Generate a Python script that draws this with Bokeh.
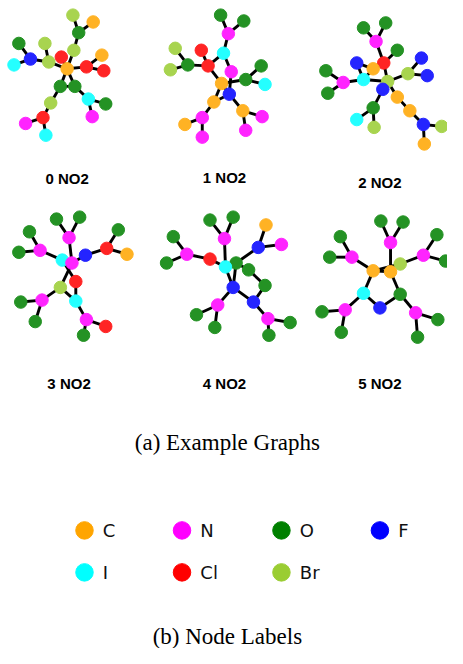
from bokeh.plotting import figure
from bokeh.models import ColumnDataSource, Range1d
from bokeh.embed import file_html
from bokeh.resources import INLINE
from bokeh.core.properties import value

# ---- label palette ----
atom_types = ["C", "N", "O", "F", "I", "Cl", "Br"]
atom_colors = ["#FFA500", "#FF00FF", "#008000", "#0000FF", "#00FFFF", "#FF0000", "#9ACD32"]

# ---- graph data (layout positions, labels, edges) ----
g0_x = [75, 96, 81, 76, 19, 46, 63, 31, 14, 50, 69, 89, 105, 107, 62, 77, 91, 109, 95, 52, 44, 26, 47]
g0_y = [15, 22, 33, 51, 44, 44, 58, 60, 66, 63, 70, 68, 56, 72, 88, 88, 101, 106, 119, 105, 120, 126, 138]
g0_lab = ["Br", "C", "O", "Br", "O", "Br", "Cl", "F", "I", "Br", "C", "Cl", "C", "Cl", "O", "O", "I", "O", "N", "Br", "Cl", "N", "I"]
g0_edges = [(0, 2), (1, 2), (2, 3), (3, 10), (6, 10), (5, 9), (4, 7), (8, 7), (7, 9), (9, 10), (10, 11), (11, 12),
            (11, 13), (10, 14), (10, 15), (14, 15), (14, 19), (15, 16), (16, 17), (16, 18), (19, 20), (20, 21), (20, 22)]

g1_x = [228, 252, 236, 181, 208, 231, 194, 176, 215, 239, 270, 254, 274, 229, 237, 221, 251, 271, 209, 191, 254, 209]
g1_y = [15, 21, 34, 49, 51, 54, 66, 71, 67, 73, 67, 81, 86, 85, 96, 104, 113, 119, 120, 127, 133, 140]
g1_lab = ["O", "O", "N", "Br", "Cl", "I", "O", "Br", "Cl", "N", "O", "O", "I", "C", "F", "C", "C", "N", "N", "C", "N", "N"]
g1_edges = [(0, 2), (1, 2), (2, 5), (3, 6), (7, 6), (6, 8), (4, 8), (8, 5), (5, 9), (8, 13), (9, 14), (13, 11),
            (11, 10), (11, 12), (13, 14), (13, 15), (15, 14), (14, 16), (16, 17), (16, 20), (15, 18), (18, 19), (18, 21)]

g2_x = [376, 399, 389, 411, 369, 397, 386, 436, 422, 442, 337, 355, 376, 401, 339, 396, 411, 386, 424, 369, 387, 438, 457, 439]
g2_y = [28, 23, 42, 51, 64, 64, 70, 59, 75, 77, 72, 84, 81, 83, 95, 91, 99, 110, 113, 122, 130, 127, 129, 147]
g2_lab = ["O", "O", "N", "O", "F", "Cl", "C", "F", "Br", "F", "O", "N", "I", "Br", "O", "F", "C", "O", "C", "I", "Br", "F", "Br", "C"]
g2_edges = [(0, 2), (1, 2), (2, 5), (5, 3), (5, 6), (5, 13), (4, 6), (4, 12), (6, 12), (7, 8), (9, 8), (8, 13),
            (10, 11), (14, 11), (11, 12), (12, 13), (13, 15), (13, 16), (16, 18), (18, 21), (21, 22), (21, 23),
            (15, 17), (17, 19), (17, 20)]

g3_x = [58, 82, 30, 71, 122, 41, 110, 131, 19, 88, 64, 74, 78, 62, 43, 78, 21, 36, 89, 109, 86]
g3_y = [224, 222, 237, 243, 235, 256, 254, 260, 258, 261, 266, 269, 288, 294, 307, 308, 309, 329, 327, 334, 343]
g3_lab = ["O", "O", "O", "N", "O", "N", "Cl", "C", "O", "F", "I", "N", "Cl", "Br", "N", "I", "O", "O", "N", "Cl", "O"]
g3_edges = [(0, 3), (1, 3), (2, 5), (8, 5), (5, 10), (3, 11), (10, 11), (11, 9), (9, 6), (6, 4), (6, 7),
            (10, 12), (12, 15), (11, 13), (13, 14), (13, 15), (14, 16), (14, 17), (15, 18), (18, 19), (18, 20)]

g4_x = [217, 241, 275, 179, 232, 291, 267, 193, 217, 172, 244, 233, 257, 274, 241, 262, 225, 203, 277, 300, 222, 278]
g4_y = [225, 222, 230, 242, 244, 250, 253, 260, 265, 269, 269, 273, 276, 292, 294, 309, 312, 322, 326, 330, 335, 343]
g4_lab = ["O", "O", "C", "O", "N", "N", "F", "N", "Cl", "O", "O", "I", "O", "O", "F", "F", "N", "O", "N", "O", "O", "O"]
g4_edges = [(0, 4), (1, 4), (4, 11), (3, 7), (9, 7), (7, 8), (8, 11), (11, 10), (10, 6), (6, 2), (6, 5),
            (10, 12), (12, 13), (13, 15), (15, 14), (14, 11), (14, 10), (14, 16), (16, 17), (16, 20),
            (15, 18), (18, 19), (18, 21)]

g5_x = [394, 417, 352, 404, 452, 364, 438, 341, 461, 414, 386, 404, 376, 414, 393, 357, 333, 430, 453, 353, 432]
g5_y = [226, 227, 242, 248, 240, 263, 261, 263, 267, 270, 277, 278, 300, 301, 315, 317, 319, 320, 327, 340, 345]
g5_lab = ["O", "O", "O", "N", "O", "N", "N", "O", "O", "Br", "C", "C", "I", "O", "F", "N", "O", "N", "O", "O", "O"]
g5_edges = [(0, 3), (1, 3), (3, 11), (2, 5), (7, 5), (5, 10), (10, 11), (10, 9), (9, 6), (6, 4), (6, 8),
            (10, 12), (12, 14), (14, 13), (13, 11), (12, 15), (15, 16), (15, 19), (13, 17), (17, 18), (17, 20)]

graph_titles = ["0 NO2", "1 NO2", "2 NO2", "3 NO2", "4 NO2", "5 NO2"]
title_x = [69, 232, 393, 71, 232, 393]
title_y = [182, 181, 186, 392, 392, 392]

graphs = [
    (g0_x, g0_y, g0_lab, g0_edges),
    (g1_x, g1_y, g1_lab, g1_edges),
    (g2_x, g2_y, g2_lab, g2_edges),
    (g3_x, g3_y, g3_lab, g3_edges),
    (g4_x, g4_y, g4_lab, g4_edges),
    (g5_x, g5_y, g5_lab, g5_edges),
]


def soften(hexcol, a=0.86):
    r, g, b = (int(hexcol[i:i + 2], 16) for i in (1, 3, 5))
    mix = lambda c: int(round(c * a + 255 * (1 - a)))
    return "#%02x%02x%02x" % (mix(r), mix(g), mix(b))


node_color_of = {t: soften(c) for t, c in zip(atom_types, atom_colors)}

W, H = 447, 648
p = figure(width=W, height=H, x_range=Range1d(0, 463), y_range=Range1d(664, 0),
           output_backend="svg", toolbar_location=None, min_border=0)
p.axis.visible = False
p.grid.visible = False
p.outline_line_color = None
p.background_fill_color = "white"

for xs, ys, labs, edges in graphs:
    ex = [[xs[a], xs[b]] for a, b in edges]
    ey = [[ys[a], ys[b]] for a, b in edges]
    p.multi_line(xs=ex, ys=ey, line_color="black", line_width=2.9)
    src = ColumnDataSource(dict(x=xs, y=ys, c=[node_color_of[l] for l in labs]))
    p.scatter("x", "y", source=src, size=12.5, fill_color="c", line_color="c")

p.text(x=title_x, y=title_y, text=graph_titles, text_font=value("Liberation Sans"),
       text_font_style="bold", text_font_size="15px", text_align="center",
       text_baseline="middle", text_color="black")

p.text(x=[235, 235], y=[453, 652], text=["(a) Example Graphs", "(b) Node Labels"],
       text_font=value("Liberation Serif"), text_font_size="23px", text_align="center",
       text_baseline="middle", text_color="black")

# legend (4 columns, 2 rows)
col_x = [87, 188, 291, 393]
row_y = [543, 586]
lx = [col_x[i % 4] for i in range(len(atom_types))]
ly = [row_y[i // 4] for i in range(len(atom_types))]
p.scatter(x=lx, y=ly, size=17.5, fill_color=atom_colors, line_color=atom_colors)
p.text(x=[v + 19 for v in lx], y=ly, text=atom_types, text_font=value("DejaVu Sans"),
       text_font_size="18px", text_align="left", text_baseline="middle", text_color="#111111")

open("out.html", "w").write(file_html(p, INLINE))
